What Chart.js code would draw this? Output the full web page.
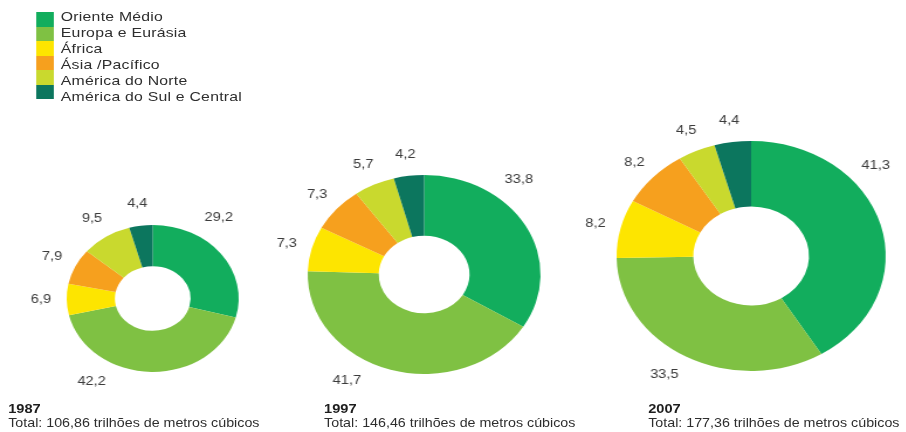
<!DOCTYPE html>
<html lang="pt">
<head>
<meta charset="utf-8">
<script src="https://cdn.jsdelivr.net/npm/chart.js@4/dist/chart.umd.min.js"></script>
<style>
    html, body {
        margin: 0;
        padding: 0;
        background: #fff;
        overflow: hidden;
    }
    .stage {
        position: absolute;
        left: 0;
        top: 0;
        width: 775px;
        height: 432px;
        transform: scaleX(1.17);
        transform-origin: 0 0;
        font-family: 'Liberation Sans', Arial, sans-serif;
        color: #2e2e2e;
    }
    .legend {
        position: absolute;
        left: 31px;
        top: 12px;
    }
    .legend__swatches {
        position: absolute;
        left: 0;
        top: 0;
        width: 15px;
    }
    .legend__swatches div {
        height: 14.5px;
    }
    .legend__labels {
        position: absolute;
        left: 21px;
        top: -3px;
        white-space: nowrap;
        font-size: 13.5px;
        letter-spacing: 0.2px;
        line-height: 16px;
    }
    .donut {
        position: absolute;
    }
    .caption {
        position: absolute;
        top: 402px;
        white-space: nowrap;
        font-size: 12.2px;
        line-height: 14px;
    }
    .caption b {
        display: block;
        font-size: 12.5px;
        color: #1e1e1e;
    }
</style>
</head>
<body>
<div class="stage" id="stage">
    <div class="legend">
        <div class="legend__swatches" id="swatches"></div>
        <div class="legend__labels" id="legendLabels"></div>
    </div>
</div>
<script>
// regiões e cores
const regions = ['Oriente Médio', 'Europa e Eurásia', 'África', 'Ásia /Pacífico', 'América do Norte', 'América do Sul e Central'];
const palette = ['#12ad5d', '#7fc143', '#fde500', '#f6a01e', '#c9d92e', '#0c765e'];

// participação (%) nas reservas provadas de gás natural
const years = ['1987', '1997', '2007'];
const totals = ['106,86', '146,46', '177,36'];
const share1987 = [29.2, 42.2, 6.9, 7.9, 9.5, 4.4];
const share1997 = [33.8, 41.7, 7.3, 7.3, 5.7, 4.2];
const share2007 = [41.3, 33.5, 8.2, 8.2, 4.5, 4.4];

const shares = [share1987, share1997, share2007];

// posição de cada rosca na página
const DONUTS = [
    { cx: 130, cy: 298, r: 73.5, cutout: '44%', captionX: 7 },
    { cx: 362, cy: 274, r: 99.5, cutout: '39%', captionX: 277 },
    { cx: 642, cy: 256, r: 115, cutout: '43%', captionX: 554 },
];
const PAD = 48;
const GAP_SMALL = 22;
const GAP_BIG = 25;

const stage = document.getElementById('stage');

// legenda
const swatches = document.getElementById('swatches');
const legendLabels = document.getElementById('legendLabels');
regions.forEach((name, i) => {
    const sw = document.createElement('div');
    sw.style.background = palette[i];
    swatches.appendChild(sw);
    const lb = document.createElement('div');
    lb.textContent = name;
    legendLabels.appendChild(lb);
});

function formatValue(v) {
    return v.toFixed(1).replace('.', ',');
}

const DEG = Math.PI / 180;
const LOWER_DIAGONALS = [145 * DEG, 212 * DEG];

// ângulo do rótulo, medido a partir do topo no sentido horário
function labelAngle(arc, index) {
    const start = arc.startAngle + Math.PI / 2;
    const end = arc.endAngle + Math.PI / 2;
    const span = end - start;
    const mid = (start + end) / 2;
    if (span <= Math.PI / 2) return mid;
    // fatias grandes: a primeira leva o rótulo a um terço do arco,
    // as outras na diagonal inferior mais próxima
    if (index === 0) return start + span / 3;
    let best = mid;
    let bestDist = Infinity;
    LOWER_DIAGONALS.forEach((d) => {
        if (d > start && d < end && Math.abs(d - mid) < bestDist) {
            best = d;
            bestDist = Math.abs(d - mid);
        }
    });
    return best;
}

const outsideLabels = {
    id: 'outsideLabels',
    afterDatasetsDraw(chart) {
        const ctx = chart.ctx;
        const meta = chart.getDatasetMeta(0);
        const values = chart.data.datasets[0].data;
        ctx.save();
        ctx.font = '12.5px "Liberation Sans", Arial, sans-serif';
        ctx.fillStyle = '#3c3c3c';
        ctx.textAlign = 'center';
        ctx.textBaseline = 'middle';
        meta.data.forEach((arc, i) => {
            const big = arc.endAngle - arc.startAngle > Math.PI / 2;
            const a = labelAngle(arc, i);
            const d = arc.outerRadius + (big ? GAP_BIG : GAP_SMALL);
            ctx.fillText(formatValue(values[i]), arc.x + d * Math.sin(a), arc.y - d * Math.cos(a));
        });
        ctx.restore();
    },
};

DONUTS.forEach((pos, k) => {
    const size = Math.round(2 * (pos.r + PAD));
    const wrap = document.createElement('div');
    wrap.className = 'donut';
    wrap.style.left = pos.cx - size / 2 + 'px';
    wrap.style.top = pos.cy - size / 2 + 'px';
    wrap.style.width = size + 'px';
    wrap.style.height = size + 'px';
    const canvas = document.createElement('canvas');
    wrap.appendChild(canvas);
    stage.appendChild(wrap);

    new Chart(canvas, {
        type: 'doughnut',
        plugins: [outsideLabels],
        data: {
            labels: regions,
            datasets: [
                {
                    data: shares[k],
                    backgroundColor: palette,
                    borderWidth: 0,
                    hoverOffset: 0,
                },
            ],
        },
        options: {
            responsive: true,
            maintainAspectRatio: false,
            animation: false,
            events: [],
            cutout: pos.cutout,
            layout: { padding: PAD },
            plugins: {
                legend: { display: false },
                tooltip: { enabled: false },
            },
        },
    });

    const cap = document.createElement('div');
    cap.className = 'caption';
    cap.style.left = pos.captionX + 'px';
    cap.innerHTML = '<b>' + years[k] + '</b>Total: ' + totals[k] + ' trilhões de metros cúbicos';
    stage.appendChild(cap);
});
</script>
</body>
</html>
